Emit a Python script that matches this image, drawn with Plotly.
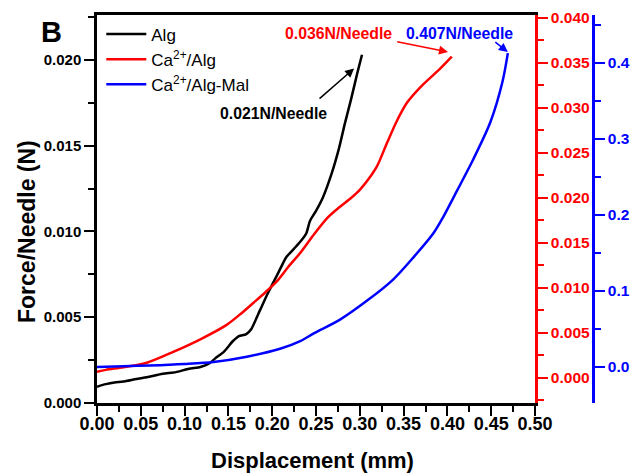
import plotly.graph_objects as go

# ---- data ----
disp_alg = [0.000, 0.010, 0.020, 0.030, 0.045, 0.057, 0.075, 0.090, 0.105, 0.118, 0.128, 0.135,
            0.145, 0.155, 0.162, 0.170, 0.176, 0.186, 0.195, 0.201, 0.208, 0.216, 0.225, 0.232,
            0.239, 0.243, 0.250, 0.258, 0.268, 0.276, 0.283, 0.290, 0.297, 0.3025]
force_alg = [0.00095, 0.0011, 0.0012, 0.00125, 0.0014, 0.0015, 0.0017, 0.0018, 0.0020, 0.0021,
             0.0023, 0.0026, 0.0030, 0.0036, 0.0039, 0.0040, 0.0043, 0.0054, 0.0064, 0.0070,
             0.0077, 0.0085, 0.0090, 0.0094, 0.0099, 0.0106, 0.0112, 0.0120, 0.0134, 0.0148,
             0.0163, 0.0177, 0.0192, 0.0203]

disp_ca = [0.000, 0.010, 0.030, 0.057, 0.087, 0.118, 0.148, 0.165, 0.178, 0.192, 0.205, 0.218,
           0.232, 0.248, 0.263, 0.277, 0.290, 0.300, 0.310, 0.320, 0.331, 0.342, 0.354, 0.369,
           0.392, 0.405]
force_ca = [0.0007, 0.0009, 0.0012, 0.0017, 0.0029, 0.0043, 0.0059, 0.0072, 0.0083, 0.0095,
            0.0107, 0.0123, 0.0139, 0.0160, 0.0178, 0.0190, 0.0200, 0.0209, 0.0221, 0.0236,
            0.0261, 0.0285, 0.0306, 0.0323, 0.0344, 0.0357]

disp_mal = [0.000, 0.030, 0.060, 0.100, 0.133, 0.171, 0.209, 0.232, 0.247, 0.277, 0.308, 0.338,
            0.361, 0.384, 0.395, 0.411, 0.429, 0.449, 0.463, 0.469]
force_mal = [0.000, 0.001, 0.002, 0.004, 0.0066, 0.0136, 0.024, 0.034, 0.044, 0.062, 0.087, 0.115,
             0.144, 0.176, 0.197, 0.232, 0.272, 0.322, 0.376, 0.413]

series_names = ["Alg", "Ca<sup>2+</sup>/Alg", "Ca<sup>2+</sup>/Alg-Mal"]
peak_labels = ["0.021N/Needle", "0.036N/Needle", "0.407N/Needle"]

x_ticks = [0.00, 0.05, 0.10, 0.15, 0.20, 0.25, 0.30, 0.35, 0.40, 0.45, 0.50]
y1_ticks = [0.000, 0.005, 0.010, 0.015, 0.020]
y2_ticks = [0.000, 0.005, 0.010, 0.015, 0.020, 0.025, 0.030, 0.035, 0.040]
y3_ticks = [0.0, 0.1, 0.2, 0.3, 0.4]

FONT = "Arial, 'Liberation Sans', sans-serif"
BLACK, RED, BLUE = "#000000", "#ff0000", "#0000ff"

fig = go.Figure()
fig.add_trace(go.Scatter(x=disp_alg, y=force_alg, name=series_names[0], mode="lines",
                         line=dict(color=BLACK, width=2.5, shape="spline", smoothing=0.6), yaxis="y"))
fig.add_trace(go.Scatter(x=disp_ca, y=force_ca, name=series_names[1], mode="lines",
                         line=dict(color=RED, width=2.5, shape="spline", smoothing=0.8), yaxis="y2"))
fig.add_trace(go.Scatter(x=disp_mal, y=force_mal, name=series_names[2], mode="lines",
                         line=dict(color=BLUE, width=2.5, shape="spline", smoothing=0.8), yaxis="y3"))

def axis_common(color, size=15):
    return dict(showgrid=False, zeroline=False, showline=True, linecolor=color, linewidth=2.5,
                ticks="outside", ticklen=10, tickwidth=2, tickcolor=color, automargin=False,
                tickfont=dict(family=FONT, size=size, color=color, weight="bold"))

xa = axis_common(BLACK, 18)
xa.update(domain=[0, 438 / 535], range=[0, 0.5], tickvals=x_ticks, tickformat=".2f", mirror=True,
          ticklabelstandoff=-7,
          minor=dict(ticks="outside", ticklen=6, tickwidth=2, tickcolor=BLACK, dtick=0.025))

ya = axis_common(BLACK, 15)
ya.update(range=[0, 0.02262], tickvals=y1_ticks, tickformat=".3f",
          minor=dict(ticks="outside", ticklen=6, tickwidth=2, tickcolor=BLACK, dtick=0.0025))

ya2 = axis_common(RED, 15.5)
ya2.update(range=[-0.00278, 0.04033], tickvals=y2_ticks, tickformat=".3f", overlaying="y",
           side="right", anchor="x",
           minor=dict(ticks="outside", ticklen=6, tickwidth=2, tickcolor=RED, dtick=0.0025))

ya3 = axis_common(BLUE, 15.5)
ya3.update(range=[-0.0474, 0.4632], tickvals=y3_ticks, tickformat=".1f", overlaying="y",
           side="right", anchor="free", position=(593 - 97) / 535,
           minor=dict(ticks="outside", ticklen=6, tickwidth=2, tickcolor=BLUE, dtick=0.05))

C = dict(xanchor="center", yanchor="middle", showarrow=False)
annotations = [
    dict(text="<b>B</b>", xref="paper", yref="paper", x=(51 - 97) / 535, y=(403 - 32) / 388,
         font=dict(family=FONT, size=29, color=BLACK), **C),
    # axis titles
    dict(text="<b>Displacement (mm)</b>", xref="paper", yref="paper",
         x=(312 - 97) / 535, y=(403 - 461) / 388,
         font=dict(family=FONT, size=22, color=BLACK), **C),
    dict(text="<b>Force/Needle (N)</b>", xref="paper", yref="paper", textangle=-90,
         x=(27 - 97) / 535, y=(403 - 232) / 388,
         font=dict(family=FONT, size=23, color=BLACK), **C),
    # peak labels
    dict(text=peak_labels[0], xref="x", yref="y", x=0.202, y=0.0169,
         font=dict(family=FONT, size=15.8, color=BLACK, weight="bold"), **C),
    dict(text=peak_labels[1], xref="x", yref="y2", x=0.276, y=0.03833,
         font=dict(family=FONT, size=15.8, color=RED, weight="bold"), **C),
    dict(text=peak_labels[2], xref="x", yref="y3", x=0.414, y=0.4395,
         font=dict(family=FONT, size=15.8, color=BLUE, weight="bold"), **C),
    # arrows
    dict(text="", xref="x", yref="y", x=0.2935, y=0.0195, axref="x", ayref="y", ax=0.2523, ay=0.01767,
         showarrow=True, arrowhead=2, arrowsize=1.2, arrowwidth=1.5, arrowcolor=BLACK, standoff=0),
    dict(text="", xref="x", yref="y2", x=0.4007, y=0.03622, axref="x", ayref="y2", ax=0.341, ay=0.0374,
         showarrow=True, arrowhead=2, arrowsize=1.2, arrowwidth=1.5, arrowcolor=RED, standoff=0),
    dict(text="", xref="x", yref="y3", x=0.469, y=0.4145, axref="x", ayref="y3", ax=0.453, ay=0.429,
         showarrow=True, arrowhead=2, arrowsize=1.2, arrowwidth=1.5, arrowcolor=BLUE, standoff=0),
]

fig.update_layout(
    width=632, height=475,
    margin=dict(l=97, r=0, t=15, b=72, autoexpand=False),
    paper_bgcolor="white", plot_bgcolor="white",
    xaxis=xa, yaxis=ya, yaxis2=ya2, yaxis3=ya3,
    showlegend=True,
    legend=dict(x=0.008, y=0.996, xanchor="left", yanchor="top", bgcolor="rgba(0,0,0,0)",
                font=dict(family=FONT, size=17, color=BLACK), tracegroupgap=0, itemwidth=40),
    annotations=annotations,
)

fig.write_html("out.html")
